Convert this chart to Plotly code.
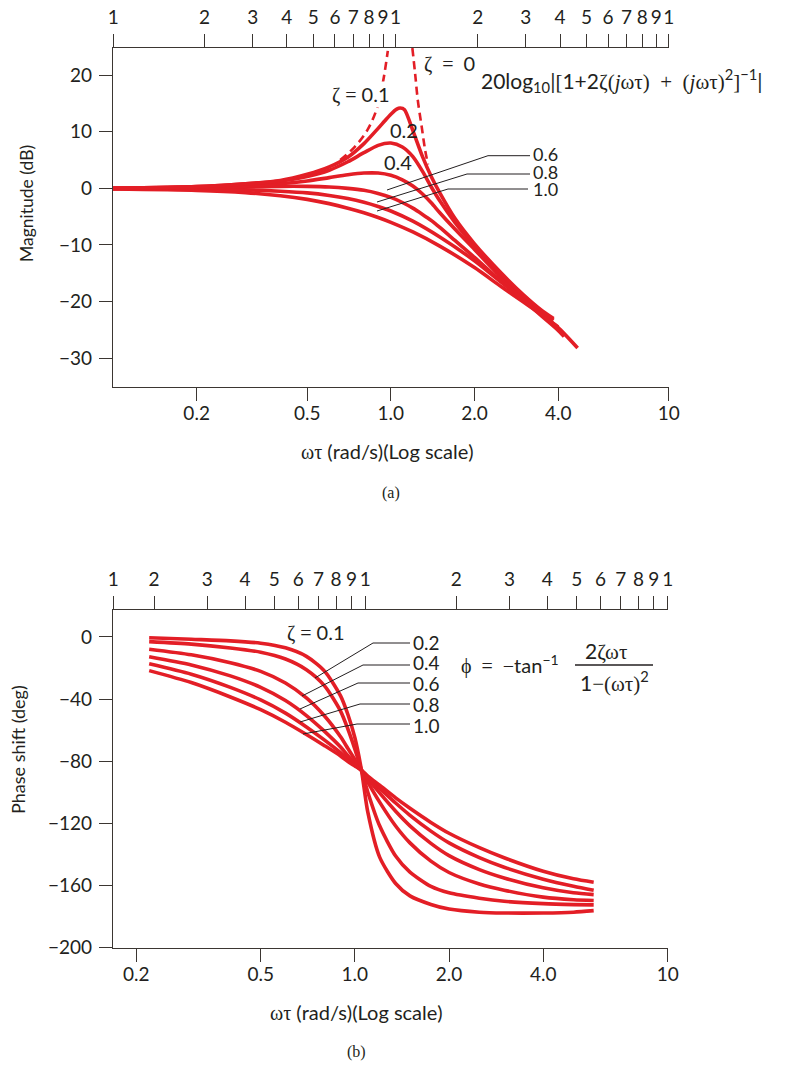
import plotly.graph_objects as go

W, H = 786, 1070
RED = "#e31e26"
INK = "#231f20"
AX = "#3b3632"
SANS = "Lato"
SERIF = "Liberation Serif"

# ---------------- data: magnitude (a) ----------------
W_M01 = [0.1, 0.2, 0.3, 0.4, 0.5, 0.6, 0.7, 0.8, 0.9, 0.95, 1.0, 1.05, 1.08, 1.12, 1.2, 1.3, 1.4, 1.5, 1.7, 2.0, 2.5, 3.0, 3.5, 3.85]
DB_M01 = [0.0, 0.3, 0.8, 1.4, 2.5, 3.8, 5.5, 7.9, 10.6, 11.9, 13.1, 14.0, 14.2, 13.9, 10.2, 5.6, 2.0, -0.8, -5.3, -9.8, -15.0, -18.8, -21.6, -23.0]
W_M02 = [0.1, 0.2, 0.3, 0.4, 0.5, 0.6, 0.7, 0.8, 0.9, 1.0, 1.1, 1.2, 1.3, 1.4, 1.5, 1.7, 2.0, 2.5, 3.0, 3.5, 3.85]
DB_M02 = [0.0, 0.3, 0.8, 1.3, 2.1, 3.2, 4.7, 6.3, 7.6, 8.0, 7.3, 5.6, 3.0, 0.2, -2.2, -6.0, -10.2, -15.3, -19.0, -21.8, -23.3]
W_M04 = [0.1, 0.2, 0.3, 0.4, 0.5, 0.6, 0.7, 0.8, 0.9, 1.0, 1.1, 1.2, 1.3, 1.4, 1.5, 1.7, 2.0, 2.5, 3.0, 3.5, 4.0]
DB_M04 = [0.0, 0.15, 0.4, 0.8, 1.3, 1.9, 2.4, 2.7, 2.7, 2.3, 1.5, 0.4, -1.0, -2.6, -4.3, -7.2, -10.8, -15.8, -19.5, -22.3, -24.5]
W_M06 = [0.1, 0.2, 0.3, 0.4, 0.5, 0.6, 0.7, 0.8, 0.9, 1.0, 1.1, 1.2, 1.3, 1.4, 1.5, 1.7, 2.0, 2.5, 3.0, 3.5, 4.1]
DB_M06 = [0.0, 0.1, 0.25, 0.35, 0.35, 0.25, 0.0, -0.35, -0.9, -1.6, -2.5, -3.5, -4.6, -5.7, -6.9, -9.2, -12.2, -16.5, -19.8, -22.6, -25.5]
W_M08 = [0.1, 0.2, 0.3, 0.4, 0.5, 0.6, 0.7, 0.8, 0.9, 1.0, 1.2, 1.5, 2.0, 2.5, 3.0, 3.5, 4.2]
DB_M08 = [0.0, -0.1, -0.25, -0.5, -0.8, -1.25, -1.8, -2.45, -3.2, -4.0, -5.8, -8.6, -12.8, -16.6, -19.6, -22.2, -26.2]
W_M10 = [0.1, 0.2, 0.3, 0.4, 0.5, 0.6, 0.7, 0.8, 0.9, 1.0, 1.2, 1.5, 2.0, 2.5, 3.0, 3.5, 4.0, 4.7]
DB_M10 = [-0.1, -0.35, -0.75, -1.3, -1.95, -2.7, -3.5, -4.3, -5.15, -6.0, -7.7, -10.2, -14.0, -17.4, -20.1, -22.4, -24.6, -28.2]
# zeta = 0 (dashed) branches
W_M0L = [0.657, 0.74, 0.823, 0.895, 0.94, 0.975]
DB_M0L = [5.0, 7.3, 10.3, 14.4, 19.2, 24.3]
W_M0R = [1.195, 1.222, 1.25, 1.291, 1.328, 1.36]
DB_M0R = [24.8, 20.4, 15.6, 10.9, 6.8, 4.2]

# ---------------- data: phase (b) ----------------
W_PH = [0.22, 0.3, 0.4, 0.5, 0.6, 0.7, 0.8, 0.9, 0.95, 1.0, 1.05, 1.1, 1.2, 1.35, 1.5, 1.75, 2.0, 2.5, 3.0, 4.0, 5.0, 5.8]
PH_01 = [-0.5, -1.5, -2.5, -4, -7, -12.5, -22, -38, -50, -65, -86, -113, -142, -159, -167, -172.5, -175.5, -177.5, -178, -178, -177.5, -176.5]
PH_02 = [-3.0, -4.6, -7.1, -9.8, -14.2, -21.1, -31.5, -47.8, -59.4, -72.3, -86, -100.1, -121.8, -141.3, -151.7, -160.9, -165.0, -168.5, -170.5, -172.0, -172.6, -172.8]
PH_04 = [-7.9, -11.5, -16.6, -22.2, -29.7, -39.3, -51.0, -64.4, -71.9, -79.0, -86, -93.6, -106.5, -121.9, -132.8, -144.6, -151.9, -159.3, -163.3, -167.8, -169.5, -170.0]
PH_06 = [-12.7, -18.0, -25.1, -32.5, -41.0, -50.7, -60.9, -71.0, -76.5, -81.3, -86, -91.4, -100.6, -112.4, -121.8, -133.1, -141.0, -150.0, -155.4, -161.8, -165.0, -166.2]
PH_08 = [-17.3, -24.0, -32.5, -40.6, -49.1, -58.0, -66.5, -74.6, -78.9, -82.5, -86, -90.3, -97.5, -107.1, -115.0, -125.2, -132.8, -142.3, -148.5, -156.2, -160.8, -163.4]
PH_10 = [-21.7, -29.4, -38.7, -46.9, -55.0, -62.9, -70.1, -76.7, -80.3, -83.2, -86, -89.7, -95.6, -103.8, -110.5, -119.6, -126.6, -135.9, -142.4, -151.1, -156.0, -158.2]

# ---------------- tick labels ----------------
TOP_LABELS = ["1", "2", "3", "4", "5", "6", "7", "8", "9",
              "1", "2", "3", "4", "5", "6", "7", "8", "9", "1"]
TOP_MULTS = [2, 3, 4, 5, 6, 7, 8, 9]
BOTTOM_VALS = [0.2, 0.5, 1, 2, 4, 10]
BOTTOM_LABELS = ["0.2", "0.5", "1.0", "2.0", "4.0", "10"]
MAG_TICKS = [20, 10, 0, -10, -20, -30]
MAG_LABELS = ["20", "10", "0", "\u221210", "\u221220", "\u221230"]
PH_TICKS = [0, -40, -80, -120, -160, -200]
PH_LABELS = ["0", "\u221240", "\u221280", "\u2212120", "\u2212160", "\u2212200"]

# ---------------- layout geometry (pixels) ----------------
A_LEFT, A_RIGHT, A_TOP, A_BOT = 113, 669, 48, 387
B_LEFT, B_RIGHT, B_TOP, B_BOT = 113, 668, 610, 948
A_XR = [-1.0, 1.001]
A_TOPR = [-1.0344, 1.001]
B_XR = [-0.7732, 1.001]
B_TOPR = [-0.8347, 1.001]


def px(x):
    return x / W


def py(y):
    return 1 - y / H


def S(t):
    return f"<span style='font-family:{SERIF}'>{t}</span>"


def top_vals(rng):
    edge = 10 ** (rng[0] + 0.0008)
    return [edge] + [m / 10 for m in TOP_MULTS] + [1] + TOP_MULTS + [10]


fig = go.Figure()

line_style = dict(color=RED, width=3.6, shape="spline", smoothing=0.7)
for xs, ys in [(W_M10, DB_M10), (W_M08, DB_M08), (W_M06, DB_M06),
               (W_M04, DB_M04), (W_M02, DB_M02), (W_M01, DB_M01)]:
    fig.add_trace(go.Scatter(x=xs, y=ys, mode="lines", line=line_style,
                             xaxis="x", yaxis="y", showlegend=False, hoverinfo="skip"))
for xs, ys in [(W_M0L, DB_M0L), (W_M0R, DB_M0R)]:
    fig.add_trace(go.Scatter(x=xs, y=ys, mode="lines",
                             line=dict(color=RED, width=2.6, dash="8px,5px", shape="spline"),
                             xaxis="x", yaxis="y", showlegend=False, hoverinfo="skip"))
for ys in [PH_10, PH_08, PH_06, PH_04, PH_02, PH_01]:
    fig.add_trace(go.Scatter(x=W_PH, y=ys, mode="lines", line=line_style,
                             xaxis="x2", yaxis="y2", showlegend=False, hoverinfo="skip"))
# carriers for top axes
fig.add_trace(go.Scatter(x=[1], y=[0], mode="markers", marker=dict(opacity=0),
                         xaxis="x3", yaxis="y", showlegend=False, hoverinfo="skip"))
fig.add_trace(go.Scatter(x=[1], y=[0], mode="markers", marker=dict(opacity=0),
                         xaxis="x4", yaxis="y2", showlegend=False, hoverinfo="skip"))

tickfont = dict(family=SANS, size=19, color=INK)
common = dict(showgrid=False, zeroline=False, showline=True, linecolor=AX, linewidth=1.3,
              ticks="outside", ticklen=13, tickwidth=1.3, tickcolor=AX, tickfont=tickfont,
              tickangle=0)

fig.update_layout(
    width=W, height=H, margin=dict(l=0, r=0, t=0, b=0, autoexpand=False),
    paper_bgcolor="white", plot_bgcolor="white",
    font=dict(family=SANS, color=INK),
    xaxis=dict(domain=[px(A_LEFT), px(A_RIGHT)], anchor="y", type="log", range=A_XR,
               tickmode="array", tickvals=BOTTOM_VALS, ticktext=BOTTOM_LABELS,
               ticklabelstandoff=-4, **common),
    yaxis=dict(domain=[py(A_BOT), py(A_TOP)], anchor="x", range=[-35.1, 24.8],
               tickmode="array", tickvals=MAG_TICKS, ticktext=MAG_LABELS,
               ticklabelstandoff=3, **common),
    xaxis3=dict(overlaying="x", anchor="y", side="top", type="log", range=A_TOPR,
                tickmode="array", tickvals=top_vals(A_TOPR), ticktext=TOP_LABELS,
                ticklabelstandoff=2, **common),
    xaxis2=dict(domain=[px(B_LEFT), px(B_RIGHT)], anchor="y2", type="log", range=B_XR,
                tickmode="array", tickvals=BOTTOM_VALS, ticktext=BOTTOM_LABELS,
                ticklabelstandoff=-4, **common),
    yaxis2=dict(domain=[py(B_BOT), py(B_TOP)], anchor="x2", range=[-200.6, 17.4],
                tickmode="array", tickvals=PH_TICKS, ticktext=PH_LABELS,
                ticklabelstandoff=3, **common),
    xaxis4=dict(overlaying="x2", anchor="y2", side="top", type="log", range=B_TOPR,
                tickmode="array", tickvals=top_vals(B_TOPR), ticktext=TOP_LABELS,
                ticklabelstandoff=2, **common),
)

anns = []


def ann(text, x, y, size=17, xanchor="center", yanchor="middle", family=SANS, **kw):
    anns.append(dict(text=text, x=px(x), y=py(y), xref="paper", yref="paper",
                     showarrow=False, xanchor=xanchor, yanchor=yanchor, borderpad=0,
                     font=dict(family=family, size=size, color=INK), **kw))


# axis titles and captions
ann("Magnitude (dB)", 26, 204, size=17.5, textangle=-90)
ann("Phase shift (deg)", 18, 750, size=18, textangle=-90)
ann(S("\u03c9\u03c4") + " (rad/s)(Log scale)", 387, 451, size=20)
ann(S("\u03c9\u03c4") + " (rad/s)(Log scale)", 356, 1012, size=20)
ann("(a)", 391, 493, size=16, family=SERIF)
ann("(b)", 356, 1052, size=16, family=SERIF)

# magnitude labels
ann(S("\u03b6 = ") + "0.1", 360, 95, size=20, bgcolor="white")
ann(S("\u03b6  =  ") + "0", 449, 63, size=20)
ann("20log<sub>10</sub>|" + S("[") + "1+2" + S("\u03b6(<i>j</i>\u03c9\u03c4)  +  (<i>j</i>\u03c9\u03c4)")
    + "<sup>2</sup>" + S("]") + "<sup>\u22121</sup>|", 480, 80, size=21, xanchor="left")
ann("0.2", 404, 130, size=20)
ann("0.4", 398, 162, size=20)
ann("0.6", 532, 154, size=18, xanchor="left")
ann("0.8", 532, 172, size=18, xanchor="left")
ann("1.0", 532, 189, size=18, xanchor="left")

# phase labels
ann(S("\u03b6 = ") + "0.1", 315, 632, size=20)
for lab, yy in [("0.2", 642), ("0.4", 662), ("0.6", 683), ("0.8", 704), ("1.0", 725)]:
    ann(lab, 412, yy, size=19, xanchor="left")
ann(S("\u03d5  =  \u2212") + "tan<sup>\u22121</sup>", 460, 664, size=20, xanchor="left")
ann("2" + S("\u03b6\u03c9\u03c4"), 606, 651, size=21)
ann("1" + S("\u2212(\u03c9\u03c4)") + "<sup>2</sup>", 614, 681, size=21)

shapes = []


def seg(x0, y0, x1, y1, w=1.0):
    shapes.append(dict(type="line", xref="paper", yref="paper",
                       x0=px(x0), y0=py(y0), x1=px(x1), y1=py(y1),
                       line=dict(color=INK, width=w)))


# magnitude leader lines
seg(387, 190, 488, 155.7); seg(488, 155.7, 530, 155.7)
seg(377, 202, 467, 174); seg(467, 174, 530, 174)
seg(377, 211, 448, 189); seg(448, 189, 528, 189)
# phase leader lines
seg(315, 678, 373, 643); seg(373, 643, 410, 643)
seg(302, 696, 363, 665); seg(363, 665, 410, 665)
seg(300, 709, 358, 683); seg(358, 683, 410, 683)
seg(300, 722, 360, 704); seg(360, 704, 410, 704)
seg(303, 734, 357, 724); seg(357, 724, 410, 724)
# fraction bar
seg(575, 665, 653, 665, w=1.6)

fig.update_layout(annotations=anns, shapes=shapes)
fig.write_html("out.html", config={"displayModeBar": False},
               post_script="document.body.style.margin='0px';")
